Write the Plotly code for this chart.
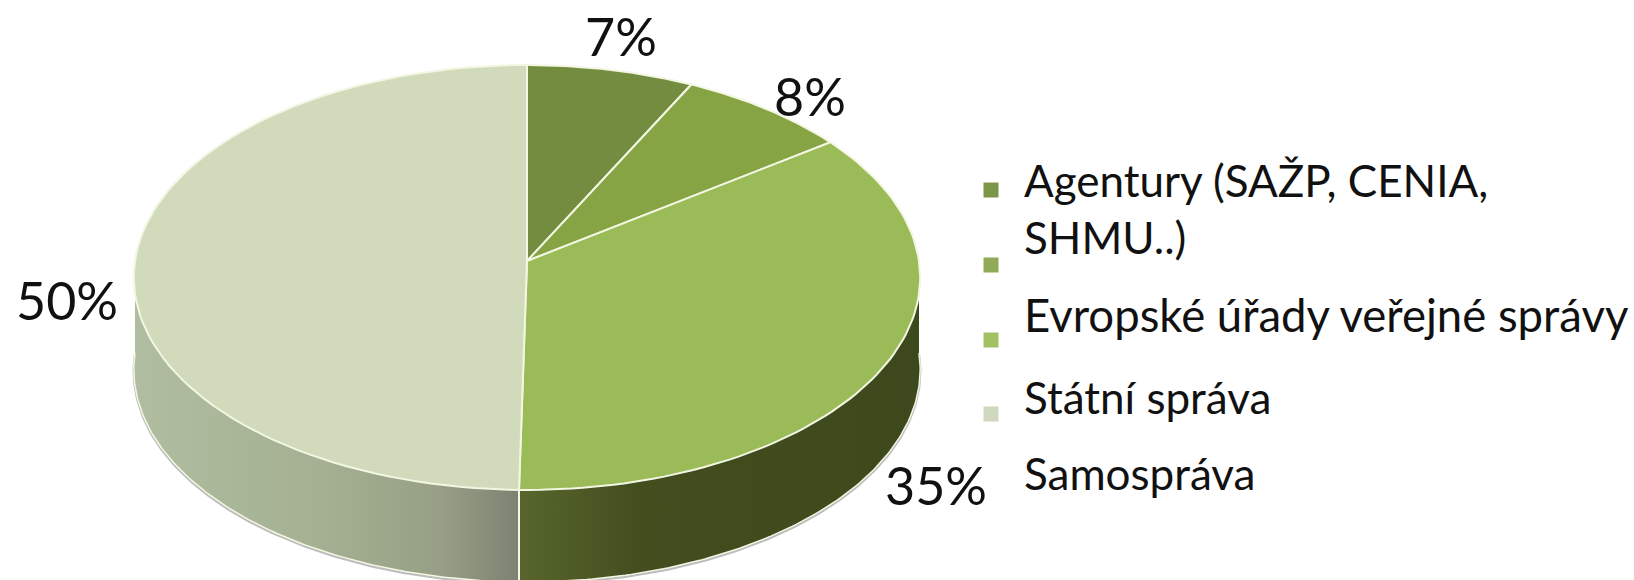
import numpy as np
import plotly.graph_objects as go

categories = ["Agentury", "Evropské úřady", "Státní správa", "Samospráva"]
values = [7.4, 7.6, 35.3, 49.7]
top_colors = ["#738C3F", "#86A444", "#9BBB59", "#D1DBBB"]
legend_colors = ["#7D9547", "#90AA56", "#A3C062", "#D0D8BE"]
pct_labels = ["7%", "8%", "35%", "50%"]

CX, CY, AX, AY, PERSP = 527, 261, 392, 211.2, 0.0776
DEPTH = 92
EDGE = "#F2F6E2"


def project(theta, drop=0.0):
    u, v = np.sin(theta), np.cos(theta)
    w = 1 + PERSP * v
    return CX + AX * u / w, CY - AY * v / w + drop


fig = go.Figure()
fracs = np.cumsum([0] + values) / sum(values) * 2 * np.pi
split = fracs[3]


def side(t0, t1, stops):
    t = np.linspace(t0, t1, 120)
    xb, yb = project(t, DEPTH)
    fig.add_trace(go.Scatter(x=xb, y=yb + 1.5, mode="lines",
                             line=dict(color="#BDBDBD", width=2.5),
                             hoverinfo="skip", showlegend=False))
    x1, y1 = project(t)
    x2, y2 = project(t[::-1], DEPTH)
    fig.add_trace(go.Scatter(
        x=np.r_[x1, x2], y=np.r_[y1, y2], mode="lines", fill="toself",
        line=dict(width=0, color="rgba(0,0,0,0)"),
        fillgradient=dict(type="horizontal", colorscale=stops),
        hoverinfo="skip", showlegend=False))
    fig.add_trace(go.Scatter(x=xb, y=yb, mode="lines",
                             line=dict(color=EDGE, width=1.5),
                             hoverinfo="skip", showlegend=False))


side(np.pi / 2, split, [[0, "#57662C"], [0.3, "#434E1F"], [1, "#3D481C"]])
side(split, 1.5 * np.pi, [[0, "#B0BDA0"], [0.5, "#A4B091"], [0.8, "#969F85"], [1, "#7C8272"]])

xd, yd = project(np.array([split, split]))
fig.add_trace(go.Scatter(x=xd, y=[yd[0], yd[0] + DEPTH], mode="lines",
                         line=dict(color=EDGE, width=2),
                         hoverinfo="skip", showlegend=False))

for i, name in enumerate(categories):
    t = np.linspace(fracs[i], fracs[i + 1], 90)
    xs, ys = project(t)
    fig.add_trace(go.Scatter(
        x=np.r_[CX, xs, CX], y=np.r_[CY, ys, CY], mode="lines", fill="toself",
        fillcolor=top_colors[i], line=dict(color=EDGE, width=2),
        name=name, hoverinfo="name", showlegend=False))

legend_lines = [("Agentury (SAŽP, CENIA,", 180, 44), ("SHMU..)", 237, 44),
                ("Evropské úřady veřejné správy", 314, 45.5),
                ("Státní správa", 397, 44), ("Samospráva", 473, 44)]
legend_marker_y = [190, 265, 340, 414]
fig.add_trace(go.Scatter(
    x=[991] * 4, y=legend_marker_y, mode="markers",
    marker=dict(symbol="square", size=15, color=legend_colors),
    hoverinfo="skip", showlegend=False))

for text, y, size in legend_lines:
    fig.add_annotation(x=1022, y=y, text=text, showarrow=False, xanchor="left", yanchor="middle",
                       font=dict(family="Lato", size=size, color="#111111"))
label_pos = [(621, 36), (810, 96), (936, 485), (67, 300)]
for text, (x, y) in zip(pct_labels, label_pos):
    fig.add_annotation(x=x, y=y, text=text, showarrow=False, xanchor="center", yanchor="middle",
                       font=dict(family="Lato", size=52, color="#111111"))

fig.update_xaxes(range=[0, 1634], visible=False, fixedrange=True)
fig.update_yaxes(range=[580, 0], visible=False, fixedrange=True)
fig.update_layout(width=1634, height=580, margin=dict(l=0, r=0, t=0, b=0),
                  paper_bgcolor="white", plot_bgcolor="white", showlegend=False)
fig.write_html("out.html", config=dict(displayModeBar=False),
               post_script="document.body.style.margin='0';document.documentElement.style.overflow='hidden';")
